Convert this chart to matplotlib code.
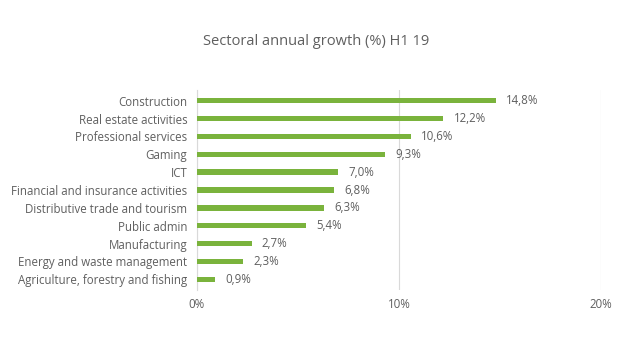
import matplotlib
matplotlib.use("Agg")
import matplotlib.pyplot as plt
from matplotlib.ticker import FuncFormatter

plt.rcParams['font.family'] = ['Open Sans', 'DejaVu Sans']

categories = ["Construction", "Real estate activities", "Professional services", "Gaming", "ICT",
              "Financial and insurance activities", "Distributive trade and tourism", "Public admin",
              "Manufacturing", "Energy and waste management", "Agriculture, forestry and fishing"]
values = [14.8, 12.2, 10.6, 9.3, 7.0, 6.8, 6.3, 5.4, 2.7, 2.3, 0.9]
xticks = [0, 10, 20]

text_color = "#5f5f5f"
bar_color = "#7ab33c"

fig = plt.figure(figsize=(6.32, 3.49), dpi=100)
ax = fig.add_axes([0.3117, 0.169, 0.6393, 0.573])
y = list(range(len(categories)))
ax.barh(y, values, height=0.3, color=bar_color, zorder=3)
for yi, v in zip(y, values):
    ax.text(v + 0.5, yi, f"{v:.1f}%".replace(".", ","), va="center", ha="left",
            fontsize=8.3, color=text_color)
ax.set_yticks(y)
ax.set_yticklabels(categories, fontsize=8.3, color=text_color)
ax.set_ylim(10.6, -0.6)
ax.set_xlim(0, 20)
ax.set_xticks(xticks)
ax.xaxis.set_major_formatter(FuncFormatter(lambda v, p: f"{v:.0f}%"))
ax.tick_params(axis='x', labelsize=8.3, colors=text_color, length=0, pad=6)
ax.tick_params(axis='y', length=0, pad=7)
ax.grid(axis='x', color="#d9d9d9", linewidth=0.8, zorder=0)
for s in ["top", "right", "bottom"]:
    ax.spines[s].set_visible(False)
ax.spines["left"].set_color("#d9d9d9")
ax.spines["left"].set_linewidth(0.8)
fig.text(0.5, 0.88, "Sectoral annual growth (%) H1 19", ha="center", va="center",
         fontsize=10.5, color=text_color)
fig.savefig("out.png", dpi=100)
